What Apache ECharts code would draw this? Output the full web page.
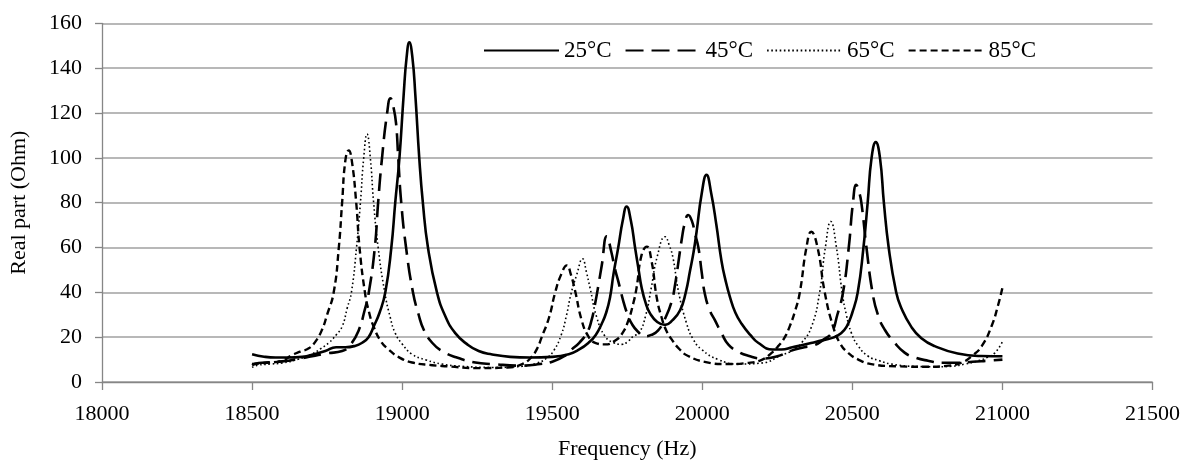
<!DOCTYPE html>
<html>
<head>
<meta charset="utf-8">
<script src="https://cdn.jsdelivr.net/npm/echarts@6/dist/echarts.min.js"></script>
<style>
html,body{margin:0;padding:0;background:#fff;}
#chart{width:1189px;height:465px;}
</style>
</head>
<body>
<div id="chart"></div>
<script>
// Frequency (Hz) / Real part (Ohm) readings, one array per temperature
const seriesNames = ['25°C', '45°C', '65°C', '85°C'];

const data25 = [[18500,12.4],[18540,11.3],[18578,10.9],[18620,10.9],[18667,11.2],[18710,12.5],[18744,13.8],[18780,15.5],[18811,15.5],[18840,16],[18867,17.5],[18888,20],[18905,24.7],[18925,31],[18944,40],[18964,60],[18977,80],[18991,100],[19005,128],[19015,145],[19024,151.5],[19034,145],[19044,128],[19057,100],[19069,80],[19086,60],[19116,40],[19145,29],[19177,21.8],[19215,17],[19255,13.8],[19300,12.3],[19360,11.2],[19425,10.9],[19500,11.2],[19555,12.4],[19590,14.5],[19621,17.5],[19645,21],[19665,26],[19680,31],[19693,38],[19704,48],[19720,60],[19735,72],[19748,78.3],[19762,72],[19776,60],[19788,50],[19798,42],[19812,35],[19826,30.6],[19850,26.8],[19876,25.5],[19900,27.5],[19926,32],[19945,40],[19959,49.5],[19971,58],[19981,67],[19998,84],[20014,92.4],[20030,84],[20047,70],[20064,54],[20078,45],[20092,38],[20110,31],[20131,26],[20160,21],[20186,17.5],[20234,14.5],[20264,14.5],[20300,15.5],[20341,16.7],[20380,18],[20436,19.8],[20460,21.5],[20481,24.7],[20500,31],[20518,40],[20537,60],[20551,80],[20564,100],[20578,107],[20592,100],[20605,80],[20621,60],[20646,40],[20663,33],[20696,24.7],[20730,19.5],[20774,16],[20851,12.7],[20929,11.6],[21000,11.5]];

const data45 = [[18500,7.5],[18522,8.5],[18560,8.8],[18600,9.2],[18650,10.2],[18700,11.5],[18750,12.8],[18800,13.8],[18830,17],[18856,23.3],[18875,32],[18889,40],[18909,60],[18920,80],[18933,100],[18950,120],[18961,126.6],[18972,122],[18980,115],[18987,100],[18997,80],[19013,60],[19036,40],[19055,30],[19072,23.3],[19100,17.5],[19133,13.8],[19180,11],[19244,8.7],[19300,8],[19400,7.3],[19460,8],[19500,9],[19540,11.5],[19565,14.5],[19590,17.5],[19615,21.8],[19630,27],[19643,35],[19655,44],[19665,52],[19682,65],[19697,58],[19708,51],[19720,45],[19737,36],[19750,30.5],[19765,26],[19785,22.5],[19809,20.4],[19830,21],[19853,23],[19875,28],[19898,36],[19910,44],[19920,53],[19932,64],[19942,71],[19953,74.5],[19965,72],[19976,66],[19987,60],[19998,49],[20009,39],[20025,32],[20042,27.6],[20065,21.5],[20087,16.7],[20120,13.5],[20153,11.7],[20200,10.5],[20250,11.5],[20297,14],[20340,15.5],[20375,16.5],[20405,19],[20430,21.8],[20450,30],[20469,40],[20488,60],[20502,80],[20513,88],[20522,85],[20530,80],[20547,60],[20567,40],[20585,30],[20608,23.3],[20641,17.5],[20674,13.1],[20707,11],[20752,9.5],[20800,8.6],[20850,8.6],[20900,9],[20950,9.5],[21000,10]];

const data65 = [[18500,6.5],[18520,7.5],[18560,8],[18600,8.5],[18650,10],[18700,12.5],[18730,15],[18756,17.5],[18780,21],[18800,24.7],[18817,33],[18831,40],[18848,60],[18861,80],[18872,100],[18883,110.6],[18894,100],[18905,80],[18920,60],[18942,40],[18960,29],[18977,21.8],[19000,17],[19033,12.4],[19080,9.8],[19133,8],[19200,7],[19300,6.5],[19400,7],[19450,8.5],[19480,10.5],[19505,14],[19530,21],[19548,30],[19562,39],[19582,48],[19601,55],[19614,49],[19626,42],[19648,29],[19676,20.4],[19705,17.5],[19731,16.8],[19750,17.8],[19770,20.4],[19790,22],[19812,30],[19830,42],[19850,56],[19876,64.8],[19890,61],[19903,55],[19920,40.8],[19948,26],[19970,19],[19998,14.5],[20053,10],[20120,8],[20200,8.5],[20264,12],[20300,14],[20331,17.5],[20364,24.7],[20391,40],[20410,60],[20428,71.6],[20447,60],[20466,40],[20480,30],[20497,21.8],[20520,16],[20552,11.6],[20590,9.5],[20630,8],[20700,7],[20780,6.8],[20830,7],[20875,8],[20920,9.5],[20950,11],[20975,13],[21000,18]];

const data85 = [[18500,8],[18540,8.5],[18600,9.5],[18633,12],[18660,13.5],[18689,15],[18711,18],[18733,23.3],[18750,30],[18772,40],[18789,60],[18800,80],[18811,99],[18822,103.3],[18832,99],[18847,80],[18858,60],[18876,40],[18890,31],[18905,24.7],[18930,18],[18955,14.5],[18990,11],[19033,8.7],[19100,7.5],[19150,7],[19250,6.2],[19350,6.5],[19400,8],[19430,11],[19450,15],[19465,20],[19490,29],[19510,40],[19530,48],[19549,52],[19562,48],[19576,40.8],[19598,27.6],[19620,20.5],[19643,17.5],[19676,16.8],[19710,18.5],[19735,22],[19754,27.6],[19770,35],[19781,42],[19798,56.8],[19815,60.4],[19831,53.9],[19848,37.8],[19864,29],[19880,23],[19898,19],[19925,14.5],[19953,11.6],[20008,9],[20080,8],[20150,8.5],[20200,10],[20231,13],[20253,16],[20275,20],[20291,24.7],[20310,32],[20325,40],[20347,60],[20363,67],[20384,60],[20408,40],[20436,24.7],[20460,17],[20486,13],[20520,10],[20563,8],[20650,7],[20750,6.8],[20820,7.3],[20865,8.7],[20898,11.6],[20931,16],[20964,25],[20985,34],[21000,42]];

const xTicks = { min: 18000, max: 21500, interval: 500 };
const yTicks = { min: 0, max: 160, interval: 20 };

const FONT = '"Liberation Serif", "Times New Roman", serif';
const chart = echarts.init(document.getElementById('chart'), null, { renderer: 'canvas' });

function mk(name, data, lineStyle) {
  return {
    name: name, type: 'line', data: data, showSymbol: false, symbol: 'none',
    legendIcon: 'none',
    smooth: 0.5,
    lineStyle: Object.assign({ color: '#000', join: 'round', cap: 'butt' }, lineStyle),
    itemStyle: { color: '#000' },
    emphasis: { disabled: true },
    animation: false
  };
}

chart.setOption({
  backgroundColor: '#fff',
  animation: false,
  textStyle: { fontFamily: FONT },
  grid: { left: 99.5, right: 36.5, top: 23.3, bottom: 75, containLabel: false },
  legend: {
    left: 478, top: 34,
    itemWidth: 75, itemHeight: 20, itemGap: 13,
    itemStyle: { opacity: 0 },
    textStyle: { fontFamily: FONT, fontSize: 23, color: '#000' },
    data: seriesNames
  },
  xAxis: {
    type: 'value', min: xTicks.min, max: xTicks.max, interval: xTicks.interval,
    name: 'Frequency (Hz)', nameLocation: 'middle', nameGap: 56,
    nameTextStyle: { fontFamily: FONT, fontSize: 22, color: '#000' },
    axisLine: { show: true, lineStyle: { color: '#868686', width: 1.3 } },
    axisTick: { show: true, inside: false, length: 8, lineStyle: { color: '#868686', width: 1.3 } },
    axisLabel: { fontFamily: FONT, fontSize: 22, color: '#000', margin: 21, formatter: function (v) { return String(v); } },
    splitLine: { show: false }
  },
  yAxis: {
    type: 'value', min: yTicks.min, max: yTicks.max, interval: yTicks.interval,
    name: 'Real part (Ohm)', nameLocation: 'middle', nameGap: 72, nameRotate: 90,
    nameTextStyle: { fontFamily: FONT, fontSize: 22, color: '#000' },
    axisLine: { show: true, lineStyle: { color: '#868686', width: 1.3 } },
    axisTick: { show: true, inside: false, length: 7, lineStyle: { color: '#868686', width: 1.3 } },
    axisLabel: { fontFamily: FONT, fontSize: 22, color: '#000', margin: 20, formatter: function (v) { return String(v); } },
    splitLine: { show: true, lineStyle: { color: '#a0a0a0', width: 1.5 } }
  },
  series: [
    mk(seriesNames[0], data25, { width: 2.6, type: 'solid' }),
    mk(seriesNames[1], data45, { width: 2.6, type: [18, 8] }),
    mk(seriesNames[2], data65, { width: 1.6, type: [1.6, 2.6] }),
    mk(seriesNames[3], data85, { width: 2.4, type: [7, 4] })
  ]
});
</script>
</body>
</html>
